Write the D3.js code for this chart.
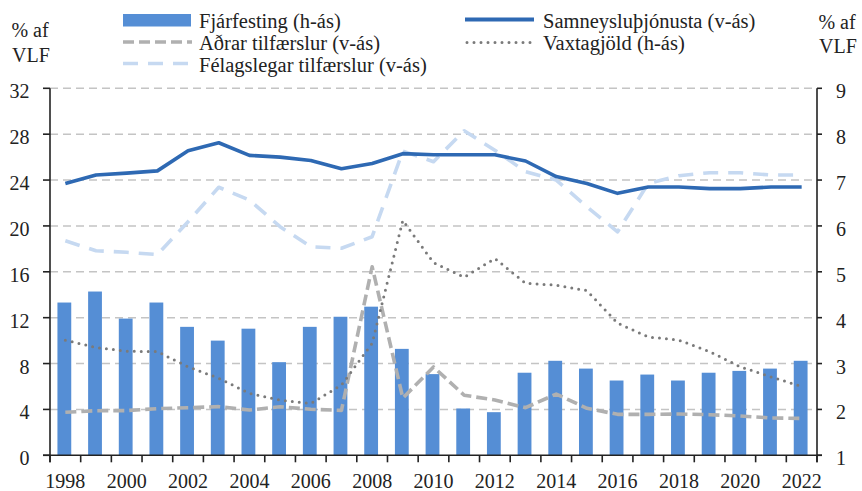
<!DOCTYPE html>
<html>
<head>
<meta charset="utf-8">
<script src="https://cdn.jsdelivr.net/npm/d3@7"></script>
<style>
  body { margin: 0; background: #fff; }
</style>
</head>
<body>
<svg id="chart" width="862" height="491"></svg>
<script>
// ár
const years = d3.range(1998, 2023);
const yearLabels = years.filter(y => y % 2 === 0);

// hægri ás (h-ás)
const fjarfesting = [4.33, 4.57, 3.98, 4.33, 3.8, 3.5, 3.76, 3.03, 3.8, 4.02, 4.24, 3.32, 2.77,
    2.02, 1.94, 2.8, 3.06, 2.89, 2.63, 2.76, 2.63, 2.8, 2.84, 2.89, 3.06];
const vaxtagjold = [3.51, 3.35, 3.27, 3.26, 2.93, 2.68, 2.35, 2.2, 2.13, 2.53, 3.44, 6.12, 5.2,
    4.88, 5.29, 4.75, 4.71, 4.59, 3.88, 3.58, 3.51, 3.26, 2.93, 2.71, 2.5];

// vinstri ás (v-ás)
const samneysla = [23.7, 24.44, 24.6, 24.8, 26.56, 27.25, 26.15, 26.0, 25.7, 24.99, 25.45, 26.3, 26.2,
    26.2, 26.2, 25.66, 24.3, 23.7, 22.84, 23.4, 23.4, 23.25, 23.25, 23.4, 23.4];
const adrar = [3.75, 3.89, 3.9, 4.07, 4.15, 4.24, 3.95, 4.24, 4.01, 3.92, 16.44, 4.99, 7.7,
    5.24, 4.82, 4.15, 5.34, 4.1, 3.57, 3.57, 3.6, 3.54, 3.43, 3.25, 3.22];
const felagslegar = [18.7, 17.84, 17.7, 17.5, 20.37, 23.37, 22.26, 19.93, 18.19, 18.05, 19.06, 26.53, 25.6,
    28.3, 26.6, 24.73, 24.0, 21.67, 19.49, 23.7, 24.38, 24.64, 24.64, 24.44, 24.44];

const leftTicks = [0, 4, 8, 12, 16, 20, 24, 28, 32];
const rightTicks = [1, 2, 3, 4, 5, 6, 7, 8, 9];

const width = 862, height = 491;
const margin = { top: 88.3, right: 45, bottom: 35.7, left: 50 };
const x0 = margin.left, x1 = width - margin.right;
const yBottom = height - margin.bottom;
const font = "Liberation Serif";

const svg = d3.select("#chart");

const x = d3.scaleBand().domain(years).range([x0, x1]).paddingInner(0.55).paddingOuter(0.275);
const xb = d3.scaleBand().domain(years).range([x0, x1]);
const cx = d => xb(d) + xb.bandwidth() / 2;
const yL = d3.scaleLinear().domain([0, 32]).range([yBottom, margin.top]);
const yR = d3.scaleLinear().domain([1, 9]).range([yBottom, margin.top]);

// gridlines
svg.append("g")
    .selectAll("line")
    .data(leftTicks.filter(t => t > 0))
    .enter().append("line")
        .attr("x1", x0).attr("x2", x1 - 4)
        .attr("y1", d => yL(d)).attr("y2", d => yL(d))
        .attr("stroke", "#c4c4c4")
        .attr("stroke-width", 1.6)
        .attr("stroke-dasharray", "8,5");

// bars
svg.append("g")
    .attr("fill", "#558ed5")
    .selectAll("rect")
    .data(years)
    .enter().append("rect")
        .attr("x", d => x(d) - 1)
        .attr("width", x.bandwidth())
        .attr("y", (d, i) => yR(fjarfesting[i]))
        .attr("height", (d, i) => yBottom - yR(fjarfesting[i]));

const lineL = d3.line().x((d, i) => cx(years[i])).y(d => yL(d));
const lineR = d3.line().x((d, i) => cx(years[i])).y(d => yR(d));

function drawLine(data, gen, color, w, dash, cap) {
    svg.append("path")
        .datum(data)
        .attr("d", gen)
        .attr("fill", "none")
        .attr("stroke", color)
        .attr("stroke-width", w)
        .attr("stroke-dasharray", dash)
        .attr("stroke-linecap", cap || "butt")
        .attr("stroke-linejoin", "round");
}

drawLine(felagslegar, lineL, "#c6d9f1", 3.6, "15,10");
drawLine(adrar, lineL, "#b0b0b0", 3.6, "11,5");
drawLine(vaxtagjold, lineR, "#7a7a7a", 3, "0,7", "round");
drawLine(samneysla, lineL, "#2e69b3", 3.6, null);

// axes
const axisColor = "#222";
const tickSize = 7;
const gAxis = svg.append("g").attr("stroke", axisColor).attr("stroke-width", 1.6);
gAxis.append("line").attr("x1", x0).attr("x2", x0).attr("y1", margin.top).attr("y2", yBottom + tickSize);
gAxis.append("line").attr("x1", x1).attr("x2", x1).attr("y1", margin.top).attr("y2", yBottom + tickSize);
gAxis.append("line").attr("x1", x0 - tickSize).attr("x2", x1 + 5).attr("y1", yBottom).attr("y2", yBottom);

gAxis.selectAll(".lt").data(leftTicks).enter().append("line")
    .attr("x1", x0 - tickSize).attr("x2", x0)
    .attr("y1", d => yL(d)).attr("y2", d => yL(d));
gAxis.selectAll(".rt").data(rightTicks).enter().append("line")
    .attr("x1", x1).attr("x2", x1 + 5)
    .attr("y1", d => yR(d)).attr("y2", d => yR(d));
gAxis.selectAll(".xt").data(years.concat([2023])).enter().append("line")
    .attr("x1", d => d === 2023 ? x1 : xb(d)).attr("x2", d => d === 2023 ? x1 : xb(d))
    .attr("y1", yBottom).attr("y2", yBottom + tickSize);

svg.append("g").selectAll("text").data(leftTicks).enter().append("text")
    .attr("x", 29.5).attr("y", d => yL(d) + 10)
    .attr("text-anchor", "end").attr("font-size", 20)
    .text(d => d);
svg.append("g").selectAll("text").data(rightTicks).enter().append("text")
    .attr("x", 836).attr("y", d => yR(d) + 10)
    .attr("font-size", 20)
    .text(d => d);
svg.append("g").selectAll("text").data(yearLabels).enter().append("text")
    .attr("x", d => cx(d)).attr("y", 487.5)
    .attr("text-anchor", "middle").attr("font-size", 20)
    .text(d => d);

// axis titles
const titles = [
    { x: 30, y: 37, t: "% af" }, { x: 31, y: 61.5, t: "VLF" },
    { x: 837, y: 29, t: "% af" }, { x: 838, y: 53, t: "VLF" }
];
svg.append("g").selectAll("text").data(titles).enter().append("text")
    .attr("x", d => d.x).attr("y", d => d.y)
    .attr("text-anchor", "middle").attr("font-size", 20)
    .text(d => d.t);

// legend
const legend = svg.append("g");
legend.append("rect").attr("x", 123).attr("y", 14).attr("width", 68).attr("height", 12.5).attr("fill", "#558ed5");
const legLines = [
    { x: 123, y: 42, color: "#b0b0b0", dash: "11,5", cap: "butt", w: 3.6 },
    { x: 123, y: 63.5, color: "#c6d9f1", dash: "15,10", cap: "butt", w: 3.6 },
    { x: 465, y: 19.5, color: "#2e69b3", dash: null, cap: "butt", w: 3.8 },
    { x: 467, y: 42.5, color: "#7a7a7a", dash: "0,7", cap: "round", w: 3 }
];
legend.selectAll("line").data(legLines).enter().append("line")
    .attr("x1", d => d.x).attr("x2", d => d.x + 69)
    .attr("y1", d => d.y).attr("y2", d => d.y)
    .attr("stroke", d => d.color).attr("stroke-width", d => d.w)
    .attr("stroke-dasharray", d => d.dash).attr("stroke-linecap", d => d.cap);
const legTexts = [
    { x: 199, y: 27.5, t: "Fjárfesting (h-ás)" },
    { x: 199, y: 49.5, t: "Aðrar tilfærslur (v-ás)" },
    { x: 199, y: 71.5, t: "Félagslegar tilfærslur (v-ás)" },
    { x: 543, y: 27.5, t: "Samneysluþjónusta (v-ás)" },
    { x: 543, y: 50, t: "Vaxtagjöld (h-ás)" }
];
legend.selectAll("text").data(legTexts).enter().append("text")
    .attr("x", d => d.x).attr("y", d => d.y)
    .attr("font-size", 20.5)
    .text(d => d.t);

svg.selectAll("text").attr("font-family", font).attr("fill", "#222");
</script>
</body>
</html>
